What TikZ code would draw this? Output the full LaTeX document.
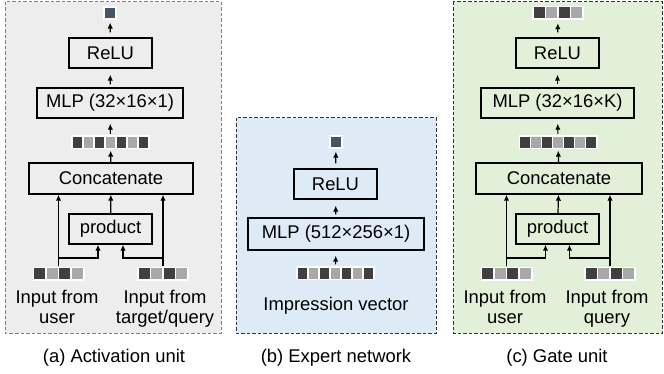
\documentclass[tikz,border=0pt]{standalone}
\usepackage{fontspec}
\setmainfont{Liberation Sans}
\usetikzlibrary{arrows.meta}

\definecolor{panA}{HTML}{EDEDED}
\definecolor{panB}{HTML}{DEEBF7}
\definecolor{panC}{HTML}{E2F0D9}
\definecolor{outsq}{HTML}{44546A}
\definecolor{dsq}{HTML}{404040}
\definecolor{lsq}{HTML}{A8A8A8}
\definecolor{dashA}{HTML}{7F7F7F}
\definecolor{dashB}{HTML}{333333}

\newcommand\sqvec[4]{% name, center, count, pitch
  \node[fill=white, inner sep=0pt, minimum width={(#3*#4+2)*1pt}, minimum height=14pt] (#1) at (#2) {};
  \foreach \i in {1,...,#3}{
    \pgfmathsetmacro\cx{(\i-0.5-#3/2)*#4}
    \pgfmathparse{isodd(\i)}
    \ifnum\pgfmathresult=1 \def\sqc{dsq}\else\def\sqc{lsq}\fi
    \fill[\sqc, shift={(#1.center)}] (\cx-#4/2+0.75,-5.5) rectangle ++(#4-1.5,11);
  }
}

\begin{document}
\begin{tikzpicture}[x=1pt,y=-1pt, font=\fontsize{18.4}{20}\selectfont,
  box/.style={draw, line width=1.4pt, minimum height=30pt, inner sep=0pt},
  arr/.style={line width=1.2pt, -{Latex[length=6pt,width=5.5pt]}},
  panel/.style={dash pattern=on 3.5pt off 2pt, line width=1pt},
  lbl/.style={align=center, inner sep=0pt, anchor=north},
  outbox/.style={fill=outsq, draw=white, line width=1.2pt, minimum size=12pt, inner sep=0pt}
]
\useasboundingbox (0,0) rectangle (664,374);

% panels
\draw[panel, draw=dashA, fill=panA] (5,2) rectangle (221,333);
\draw[panel, draw=dashB, fill=panB] (236,118) rectangle (436,333);
\draw[panel, draw=dashB, fill=panC] (453,2) rectangle (662,333);

% ---------------- (a) Activation unit
\node[outbox] (outA) at (110,13) {};
\node[box, minimum width=83pt] (reluA) at (110.5,53) {ReLU};
\node[box, minimum width=146pt] (mlpA) at (110,103) {MLP (32×16×1)};
\sqvec{vecA}{110.5,142.5}{7}{11}
\node[box, minimum width=164pt, minimum height=31pt] (catA) at (111,178.5) {Concatenate};
\node[box, minimum width=83pt] (prodA) at (110.5,229) {product};
\sqvec{inA1}{58.5,273.5}{4}{12.5}
\sqvec{inA2}{163,273.5}{4}{12.5}
\node[lbl] (txA1) at (57,290) {Input from\\user};
\node[lbl] (txA2) at (165,290) {Input from\\target/query};

\draw[arr, shorten <=5pt, shorten >=3pt] (reluA) -- (outA);
\draw[arr, shorten <=3pt, shorten >=6pt] (mlpA) -- (reluA);
\draw[arr, shorten <=1.5pt, shorten >=5pt] (vecA) -- (mlpA);
\draw[arr, shorten <=0.5pt, shorten >=1pt] (catA) -- (vecA);
\draw[arr] (prodA) -- (catA);
\coordinate (brA) at (0,258);
\draw[arr] (inA1.north) -- (inA1.north |- catA.south);
\draw[arr] (inA2.north) -- (inA2.north |- catA.south);
\coordinate (pAl) at ([xshift=-12.5pt]prodA.south);
\coordinate (pAr) at ([xshift=12.5pt]prodA.south);
\draw[arr] (inA1.north |- brA) -| (pAl);
\draw[arr] (inA2.north |- brA) -| (pAr);

% ---------------- (b) Expert network
\node[outbox] (outB) at (336,142) {};
\node[box, minimum width=83pt] (reluB) at (335.5,184) {ReLU};
\node[box, minimum width=176pt, minimum height=32pt] (mlpB) at (336,234) {MLP (512×256×1)};
\sqvec{vecB}{335.5,273}{7}{11}
\node[lbl] (txB) at (336,297) {Impression vector};

\draw[arr, shorten <=5pt, shorten >=3pt] (reluB) -- (outB);
\draw[arr, shorten <=3pt, shorten >=6pt] (mlpB) -- (reluB);
\draw[arr, shorten <=1.5pt, shorten >=5pt] (vecB) -- (mlpB);

% ---------------- (c) Gate unit
\sqvec{outC}{558,13}{4}{12.5}
\node[box, minimum width=83pt] (reluC) at (557.5,53) {ReLU};
\node[box, minimum width=153pt] (mlpC) at (557.5,103) {MLP (32×16×K)};
\sqvec{vecC}{558,142.5}{7}{11}
\node[box, minimum width=166pt, minimum height=31pt] (catC) at (559,178.5) {Concatenate};
\node[box, minimum width=83pt] (prodC) at (557.5,229) {product};
\sqvec{inC1}{506.5,273.5}{4}{12.5}
\sqvec{inC2}{610,273.5}{4}{12.5}
\node[lbl] (txC1) at (505,290) {Input from\\user};
\node[lbl] (txC2) at (607,290) {Input from\\query};

\draw[arr, shorten <=5pt, shorten >=3pt] (reluC) -- (outC);
\draw[arr, shorten <=3pt, shorten >=6pt] (mlpC) -- (reluC);
\draw[arr, shorten <=1.5pt, shorten >=5pt] (vecC) -- (mlpC);
\draw[arr, shorten <=0.5pt, shorten >=1pt] (catC) -- (vecC);
\draw[arr] (prodC) -- (catC);
\coordinate (brC) at (0,258);
\draw[arr] (inC1.north) -- (inC1.north |- catC.south);
\draw[arr] (inC2.north) -- (inC2.north |- catC.south);
\coordinate (pCl) at ([xshift=-12pt]prodC.south);
\coordinate (pCr) at ([xshift=12pt]prodC.south);
\draw[arr] (inC1.north |- brC) -| (pCl);
\draw[arr] (inC2.north |- brC) -| (pCr);

% captions
\node[lbl] (capA) at (114,349) {(a) Activation unit};
\node[lbl] (capB) at (336,349) {(b) Expert network};
\node[lbl] (capC) at (557,349) {(c) Gate unit};
\end{tikzpicture}
\end{document}
